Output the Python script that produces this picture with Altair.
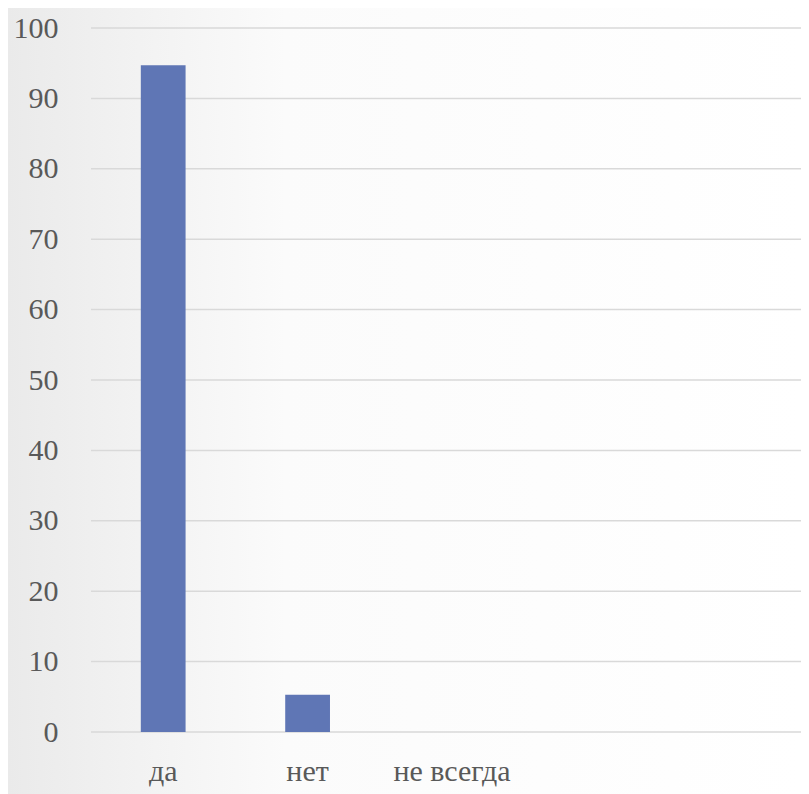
import altair as alt
import pandas as pd

categories = ["да", "нет", "не всегда", "c4", "c5"]
values = [94.7, 5.3, 0]
grid_values = list(range(0, 101, 10))

df = pd.DataFrame({"cat": categories[:3], "val": values})
gdf = pd.DataFrame({"g": grid_values})

W, H = 710, 704
FONT = "Liberation Serif"

bg = alt.Chart(pd.DataFrame({"a": [0]})).mark_rect(
    color=alt.LinearGradient(
        gradient="linear", x1=0, x2=1, y1=0, y2=0,
        stops=[alt.GradientStop(offset=0, color="#eaeaea"),
               alt.GradientStop(offset=0.35, color="#fbfbfb"),
               alt.GradientStop(offset=1, color="#ffffff")]
    )
).encode(x=alt.value(-83), x2=alt.value(W), y=alt.value(-20), y2=alt.value(H + 70))

yscale = alt.Scale(domain=[0, 100])

grid = alt.Chart(gdf).mark_rule(color="#d9d9d9", strokeWidth=1.5).encode(
    y=alt.Y("g:Q", scale=yscale),
    x=alt.value(0), x2=alt.value(W),
)

bars = alt.Chart(df).mark_bar(color="#5f76b5").encode(
    x=alt.X("cat:N", sort=categories,
            scale=alt.Scale(domain=categories, paddingInner=0.69, paddingOuter=0.345,
                            range=[0, 722]),
            axis=alt.Axis(title=None, labelAngle=0, ticks=False, domain=False, zindex=1,
                          labelExpr="indexof(['да','нет','не всегда'], datum.value) >= 0 ? datum.value : ''",
                          labelFont=FONT, labelFontSize=30, labelColor="#595959",
                          labelPadding=24)),
    y=alt.Y("val:Q", scale=yscale,
            axis=alt.Axis(title=None, values=grid_values, ticks=False, domain=False,
                          grid=False, zindex=1,
                          labelFont=FONT, labelFontSize=30, labelColor="#595959",
                          labelPadding=33)),
)

chart = alt.layer(bg, grid, bars).properties(
    width=W, height=H,
    autosize=alt.AutoSizeParams(type="none"),
    padding={"left": 83, "top": 20, "right": 0, "bottom": 62},
).configure_view(stroke=None).configure(background="white")

chart.save("out.html", embed_options={"renderer": "svg", "actions": False})
